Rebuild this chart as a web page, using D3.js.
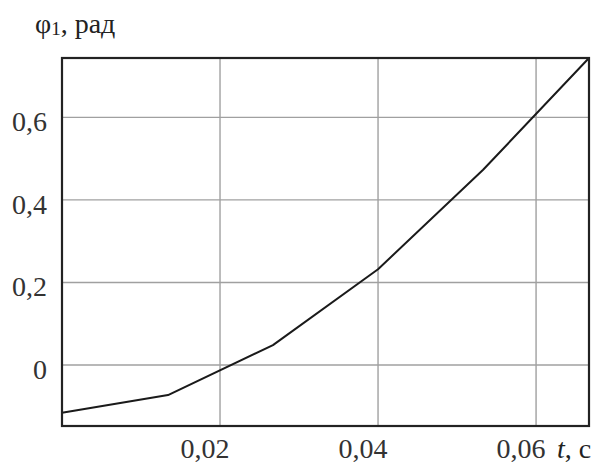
<!DOCTYPE html>
<html>
<head>
<meta charset="utf-8">
<script src="https://cdn.jsdelivr.net/npm/d3@7"></script>
<style>
  body { margin: 0; background: #fff; }
  svg { display: block; }
</style>
</head>
<body>
<svg id="chart"></svg>
<script>
// time, s
const tValues = [0, 0.01342, 0.0267, 0.04, 0.0533, 0.0667];
// angle phi1, rad
const phiValues = [-0.116, -0.073, 0.048, 0.232, 0.473, 0.744];
const xTicks = [0.02, 0.04, 0.06];
const yTicks = [0, 0.2, 0.4, 0.6];
const xLabel = "t";
const xUnit = ", с";
const yLabel = "φ";
const ySub = "1";
const yUnit = ", рад";

const width = 596;
const height = 464;
const margin = {top: 58, right: 7, bottom: 38, left: 62};

const fmt = d => d3.format(".2~f")(d).replace(".", ",");

const svg = d3.select("#chart")
  .attr("width", width)
  .attr("height", height)
  .attr("font-family", "'Liberation Serif', 'Times New Roman', serif");

const xScale = d3.scaleLinear([0, 0.0667], [margin.left, width - margin.right]);
const yScale = d3.scaleLinear([-0.148, 0.744], [height - margin.bottom, margin.top]);

// grid
svg.append("g")
  .selectAll("line")
  .data(xTicks)
  .join("line")
  .attr("x1", d => xScale(d))
  .attr("x2", d => xScale(d))
  .attr("y1", yScale.range()[0])
  .attr("y2", yScale.range()[1])
  .attr("stroke", "#a0a0a0")
  .attr("stroke-width", 1.4);

svg.append("g")
  .selectAll("line")
  .data(yTicks)
  .join("line")
  .attr("x1", xScale.range()[0])
  .attr("x2", xScale.range()[1])
  .attr("y1", d => yScale(d))
  .attr("y2", d => yScale(d))
  .attr("stroke", "#a0a0a0")
  .attr("stroke-width", 1.4);

// curve
const data = tValues.map((t, i) => ({t: t, phi: phiValues[i]}));
svg.append("path")
  .datum(data)
  .attr("fill", "none")
  .attr("stroke", "#1a1a1a")
  .attr("stroke-width", 2)
  .attr("stroke-linejoin", "round")
  .attr("d", d3.line()
    .x(d => xScale(d.t))
    .y(d => yScale(d.phi))
  );

// frame
svg.append("rect")
  .attr("x", xScale.range()[0])
  .attr("y", yScale.range()[1])
  .attr("width", xScale.range()[1] - xScale.range()[0])
  .attr("height", yScale.range()[0] - yScale.range()[1])
  .attr("fill", "none")
  .attr("stroke", "#222")
  .attr("stroke-width", 2.2);

// tick labels
svg.append("g")
  .selectAll("text")
  .data(xTicks)
  .join("text")
  .attr("x", d => xScale(d) - 15)
  .attr("y", 458)
  .attr("text-anchor", "middle")
  .attr("font-size", 28)
  .attr("fill", "#333")
  .text(fmt);

svg.append("g")
  .selectAll("text")
  .data(yTicks)
  .join("text")
  .attr("x", 47)
  .attr("y", d => yScale(d) + 14)
  .attr("text-anchor", "end")
  .attr("font-size", 28)
  .attr("fill", "#333")
  .text(fmt);

// axis titles
const xt = svg.append("text")
  .attr("x", 557)
  .attr("y", 458)
  .attr("font-size", 28)
  .attr("fill", "#222");
xt.append("tspan").attr("font-style", "italic").text(xLabel);
xt.append("tspan").text(xUnit);

const yt = svg.append("text")
  .attr("x", 35)
  .attr("y", 33)
  .attr("font-size", 28)
  .attr("fill", "#222");
yt.append("tspan").text(yLabel);
yt.append("tspan").attr("font-size", 19).attr("dy", 2).text(ySub);
yt.append("tspan").attr("dy", -2).text(yUnit);
</script>
</body>
</html>
